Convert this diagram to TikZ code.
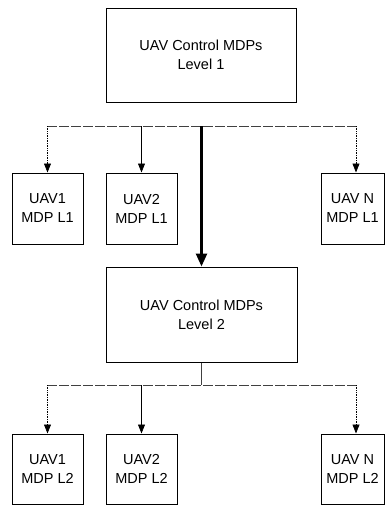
\documentclass[tikz,border=0pt]{standalone}
\usepackage{fontspec}
\setmainfont{Liberation Sans}
\usetikzlibrary{arrows.meta, positioning}

\begin{document}
\begin{tikzpicture}[x=1pt, y=-1pt,
  bigbox/.style={draw, line width=1pt, minimum width=190pt, minimum height=94pt, align=center, font=\fontsize{14.5}{19}\selectfont},
  uavbox/.style={draw, line width=1pt, minimum width=71pt, minimum height=71pt, inner sep=0pt, align=center, font=\fontsize{14.5}{19}\selectfont},
  bus/.style={dash pattern=on 10pt off 2pt, black!75, line width=0.7pt},
  dotarrow/.style={densely dotted, line width=0.7pt, -{Triangle[length=9pt, width=7pt]}},
  thinarrow/.style={line width=0.7pt, -{Triangle[length=9pt, width=7pt]}},
  mainarrow/.style={line width=2.5pt, -{Triangle[length=13pt, width=11pt]}}]
\useasboundingbox (0,0) rectangle (385,506);

% Level 1
\node[bigbox] (top) at (201,55) {UAV Control MDPs\\Level 1};
\node[uavbox] (uava1) at (47.5,208.5) {UAV1\\MDP L1};
\node[uavbox] (uavb1) at (141.5,208.5) {UAV2\\MDP L1};
\node[uavbox, minimum width=63pt] (uavn1) at (352.5,208.5) {UAV N\\MDP L1};

\coordinate (busw1) at (47,126);
\coordinate (buse1) at (358,126);
\coordinate (split1) at (201.5,126);
\draw[bus] (busw1) -- (buse1);
\draw[dotarrow] (uava1 |- busw1) -- (uava1.north);
\draw[thinarrow] (uavb1 |- busw1) -- (uavb1.north);
\draw[dotarrow] ([xshift=3.5pt]uavn1.north |- busw1) -- ([xshift=3.5pt]uavn1.north);

% Level 2
\node[bigbox, minimum width=191pt, minimum height=95pt] (mid) at (201.5,314.5) {UAV Control MDPs\\Level 2};
\draw[mainarrow] (split1) -- (mid.north);
\node[uavbox, minimum height=70pt] (uava2) at (47.5,469) {UAV1\\MDP L2};
\node[uavbox, minimum height=70pt] (uavb2) at (141.5,469) {UAV2\\MDP L2};
\node[uavbox, minimum width=63pt, minimum height=70pt] (uavn2) at (352.5,469) {UAV N\\MDP L2};

\coordinate (busw2) at (47,385);
\coordinate (buse2) at (358,385);
\draw[line width=0.7pt, black!75] (mid.south) -- (mid.south |- busw2);
\draw[bus] (busw2) -- (buse2);
\draw[dotarrow] (uava2 |- busw2) -- (uava2.north);
\draw[thinarrow] (uavb2 |- busw2) -- (uavb2.north);
\draw[dotarrow] ([xshift=3.5pt]uavn2.north |- busw2) -- ([xshift=3.5pt]uavn2.north);
\end{tikzpicture}
\end{document}
